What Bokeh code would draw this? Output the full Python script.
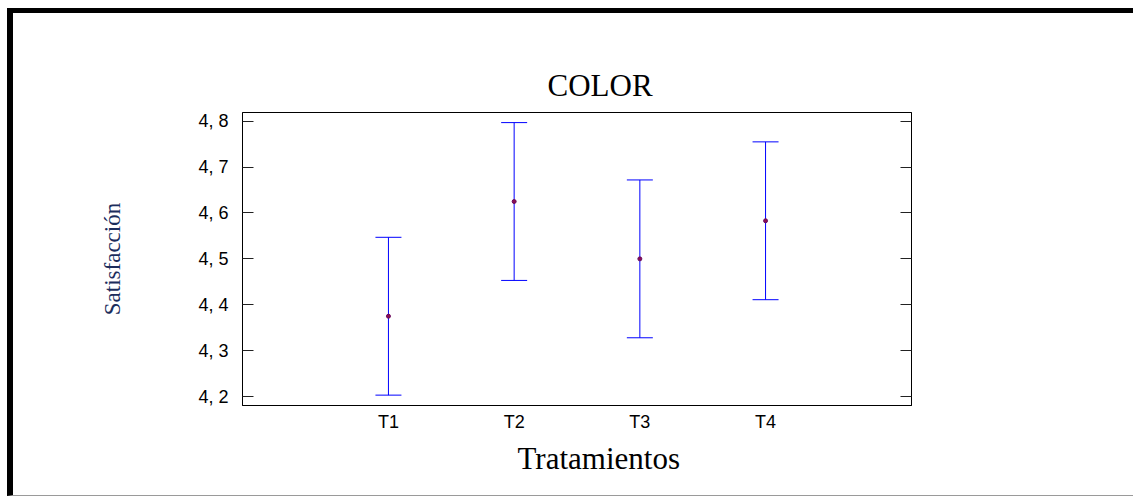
from bokeh.plotting import figure
from bokeh.models import (Range1d, FixedTicker, LinearAxis, Whisker, TeeHead,
                          ColumnDataSource, Title)
from bokeh.embed import file_html
from bokeh.resources import INLINE

# ---- data ----
categories = ["T1", "T2", "T3", "T4"]
means = [4.375, 4.625, 4.500, 4.583]
lower = [4.203, 4.453, 4.328, 4.411]
upper = [4.547, 4.797, 4.672, 4.755]
y_ticks = [4.2, 4.3, 4.4, 4.5, 4.6, 4.7, 4.8]
y_tick_labels = ["4, 2", "4, 3", "4, 4", "4, 5", "4, 6", "4, 7", "4, 8"]
title_text = "COLOR"
x_label = "Tratamientos"
y_label = "Satisfacción"

positions = list(range(1, len(categories) + 1))
src = ColumnDataSource(dict(x=positions, mean=means, lower=lower, upper=upper))

p = figure(width=1126, height=488,
           x_range=Range1d(-0.161, 5.161), y_range=Range1d(4.1804, 4.819),
           output_backend="svg", toolbar_location=None,
           min_border_left=229, min_border_right=228,
           min_border_top=99, min_border_bottom=96)
p.styles = {"margin-left": "7px", "margin-top": "8px",
            "border-top": "5px solid black", "border-left": "6px solid black",
            "border-bottom": "1px solid #9a9a9a"}

p.background_fill_color = "white"
p.border_fill_color = "white"
p.outline_line_color = "black"
p.outline_line_width = 1
p.xgrid.visible = False
p.ygrid.visible = False

# title
p.title = Title(text=title_text, align="left", offset=305, standoff=20,
                text_font="Liberation Serif", text_font_size="31px",
                text_font_style="normal", text_color="black")

# y axis (left)
yax = p.yaxis[0]
yax.ticker = FixedTicker(ticks=y_ticks)
yax.major_label_overrides = dict(zip(y_ticks, y_tick_labels))
yax.major_tick_in = 11
yax.major_tick_out = 0
yax.minor_tick_line_color = None
yax.major_tick_line_color = "#222222"
yax.axis_line_color = "black"
yax.major_label_standoff = 14
yax.major_label_text_font = "Liberation Sans"
yax.major_label_text_font_size = "18px"
yax.major_label_text_color = "black"
yax.axis_label = y_label
yax.axis_label_text_font = "Liberation Serif"
yax.axis_label_text_font_style = "normal"
yax.axis_label_text_font_size = "23px"
yax.axis_label_text_color = "#1c2d5c"
yax.axis_label_standoff = 70

# y axis (right), ticks only
rax = LinearAxis(ticker=FixedTicker(ticks=y_ticks), major_tick_in=11,
                 major_tick_out=0, minor_tick_line_color=None,
                 major_tick_line_color="#222222", axis_line_color="black",
                 major_label_text_color=None, major_label_text_font_size="1px")
p.add_layout(rax, "right")

# x axis
xax = p.xaxis[0]
xax.ticker = FixedTicker(ticks=positions)
xax.major_label_overrides = dict(zip(positions, categories))
xax.major_tick_in = 0
xax.major_tick_out = 0
xax.minor_tick_line_color = None
xax.axis_line_color = "black"
xax.major_label_standoff = 6
xax.major_label_text_font = "Liberation Sans"
xax.major_label_text_font_size = "18px"
xax.major_label_text_color = "black"

# x label as a left-aligned title below the axis
p.add_layout(Title(text=x_label, align="left", offset=275, standoff=8,
                   text_font="Liberation Serif", text_font_size="31px",
                   text_font_style="normal", text_color="black"), "below")

# error bars
wh = Whisker(source=src, base="x", lower="lower", upper="upper",
             line_color="blue", line_width=1,
             lower_head=TeeHead(size=26, line_color="blue", line_width=1),
             upper_head=TeeHead(size=26, line_color="blue", line_width=1))
p.add_layout(wh)

# means
p.scatter("x", "mean", source=src, size=4, fill_color="#8a1050",
          line_color="#6a0a60", line_width=1)

open("out.html", "w").write(file_html(p, INLINE))
